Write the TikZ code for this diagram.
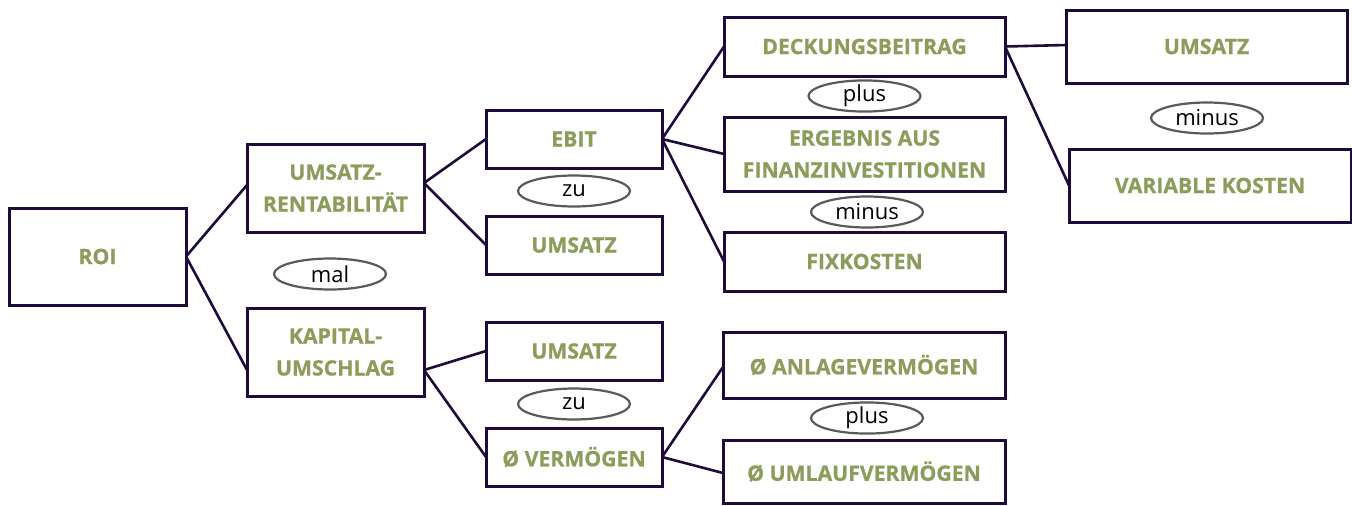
\documentclass[tikz,border=0pt]{standalone}
\usepackage{fontspec}
\setmainfont{Open Sans}[BoldFeatures={FakeBold=0.8}]
\usepackage{tikz}
\usetikzlibrary{positioning, shapes.geometric}

\definecolor{linecol}{HTML}{1E0B3C}
\definecolor{textgreen}{HTML}{8D9C5B}
\definecolor{opgray}{HTML}{5A5A5A}

\begin{document}
\begin{tikzpicture}[x=0.5pt, y=-0.5pt,
    box/.style={draw=linecol, line width=1.5pt, rectangle, align=center, inner sep=0pt, outer sep=0pt,
        text=textgreen, font=\bfseries\fontsize{10.6}{16}\selectfont},
    op/.style={draw=opgray, line width=1.1pt, ellipse, inner sep=0pt,
        minimum width=56pt, minimum height=15.5pt, font=\fontsize{11}{13}\selectfont},
    every edge/.style={draw=linecol, line width=1.3pt}]
            \useasboundingbox (0,0) rectangle (1352,505);
            % column 1
            \node[box, minimum width=88.5pt, minimum height=48.5pt] (roi) at (97.5,256.5) {ROI};
            % column 2
            \node[box, minimum width=88.5pt, minimum height=44pt] (rent) at (335.5,188) {UMSATZ-\\RENTABILITÄT};
            \node[box, minimum width=88.5pt, minimum height=44pt] (kap) [below = 38pt of rent] {KAPITAL-\\UMSCHLAG};
            \node[op] (mal) at (330,274) {mal};
            % column 3
            \node[box, minimum width=88pt, minimum height=29pt] (ebit) at (574,139) {EBIT};
            \node[box, minimum width=88pt, minimum height=29pt] (ums1) [below = 24pt of ebit] {UMSATZ};
            \node[op] (zu1) at (574,191) {zu};
            \node[box, minimum width=88pt, minimum height=29pt] (ums2) at (574,351) {UMSATZ};
            \node[box, minimum width=88pt, minimum height=29pt] (verm) [below = 24pt of ums2] {Ø VERMÖGEN};
            \node[op] (zu2) at (574,404) {zu};
            % column 4
            \node[box, minimum width=140.5pt, minimum height=29.5pt] (deck) at (864.5,46.5) {DECKUNGSBEITRAG};
            \node[box, minimum width=140.5pt, minimum height=37pt] (erg) [below = 20.5pt of deck] {ERGEBNIS AUS\\FINANZINVESTITIONEN};
            \node[box, minimum width=140.5pt, minimum height=29.5pt] (fix) [below = 20.5pt of erg] {FIXKOSTEN};
            \node[op] (plus1) at (864.5,96) {plus};
            \node[op] (minus1) at (867,212) {minus};
            \node[box, minimum width=141pt, minimum height=33pt] (anl) at (864,365) {Ø ANLAGEVERMÖGEN};
            \node[box, minimum width=141pt, minimum height=31.5pt] (uml) [below = 21pt of anl] {Ø UMLAUFVERMÖGEN};
            \node[op] (plus2) at (867,418) {plus};
            % column 5
            \node[box, minimum width=140.5pt, minimum height=36.5pt] (ums3) at (1206.5,46.5) {UMSATZ};
            \node[box, minimum width=141pt, minimum height=36.5pt] (var) at (1210,185.5) {VARIABLE KOSTEN};
            \node[op] (minus2) at (1207,118) {minus};

            \path (roi.east) edge ([yshift=1.5pt]rent.west);
            \path (roi.east) edge ([yshift=-9pt]kap.west);
            \path ([yshift=2.5pt]rent.east) edge (ebit.west);
            \path ([yshift=2.5pt]rent.east) edge (ums1.west);
            \path ([yshift=-9pt]kap.east) edge (ums2.west);
            \path ([yshift=-9pt]kap.east) edge (verm.west);
            \path (ebit.east) edge (deck.west);
            \path (ebit.east) edge (erg.west);
            \path (ebit.east) edge (fix.west);
            \path (verm.east) edge ([yshift=-1pt]anl.west);
            \path (verm.east) edge ([yshift=-0.75pt]uml.west);
            \path (deck.east) edge ([yshift=0.75pt]ums3.west);
            \path (deck.east) edge (var.west);
        \end{tikzpicture}
\end{document}
